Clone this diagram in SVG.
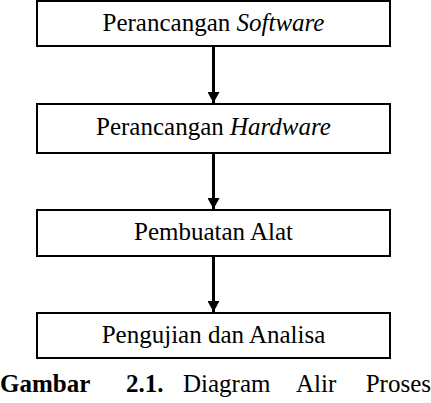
<svg xmlns="http://www.w3.org/2000/svg" width="431" height="403" viewBox="0 0 431 403">
<defs>
<style>
.box{fill:#fff;stroke:#000;stroke-width:2}
.t{font-family:"Liberation Serif","Times New Roman",serif;font-size:25px;fill:#000;text-anchor:middle}
.c{font-family:"Liberation Serif","Times New Roman",serif;font-size:25px;fill:#000}
.b{font-weight:bold}
.edge{stroke:#000;stroke-width:3;fill:none}
</style>
<marker id="ah" markerUnits="userSpaceOnUse" markerWidth="12" markerHeight="12" refX="11" refY="6" orient="auto">
<path d="M0,0 L11,6 L0,12 Z" fill="#000"/>
</marker>
</defs>
<rect width="431" height="403" fill="#fff"/>
<g id="connectors">
<line class="edge" x1="213.5" y1="46" x2="213.5" y2="103" marker-end="url(#ah)"/>
<line class="edge" x1="213.5" y1="153" x2="213.5" y2="209" marker-end="url(#ah)"/>
<line class="edge" x1="213.5" y1="256" x2="213.5" y2="312" marker-end="url(#ah)"/>
</g>
<g id="n1">
<rect class="box" x="37" y="1" width="353" height="45"/>
<text class="t" x="213.5" y="31">Perancangan <tspan font-style="italic">Software</tspan></text>
</g>
<g id="n2">
<rect class="box" x="37" y="104" width="353" height="49"/>
<text class="t" x="213.5" y="135">Perancangan <tspan font-style="italic">Hardware</tspan></text>
</g>
<g id="n3">
<rect class="box" x="37" y="210" width="353" height="46"/>
<text class="t" x="213.5" y="240">Pembuatan Alat</text>
</g>
<g id="n4">
<rect class="box" x="37" y="313" width="353" height="45"/>
<text class="t" x="213.5" y="343">Pengujian dan Analisa</text>
</g>
<g id="caption">
<text class="c b" x="0" y="392">Gambar</text>
<text class="c b" x="126" y="392">2.1.</text>
<text class="c" x="183" y="392">Diagram</text>
<text class="c" x="296" y="392">Alir</text>
<text class="c" x="431" y="392" text-anchor="end">Proses</text>
</g>
</svg>
